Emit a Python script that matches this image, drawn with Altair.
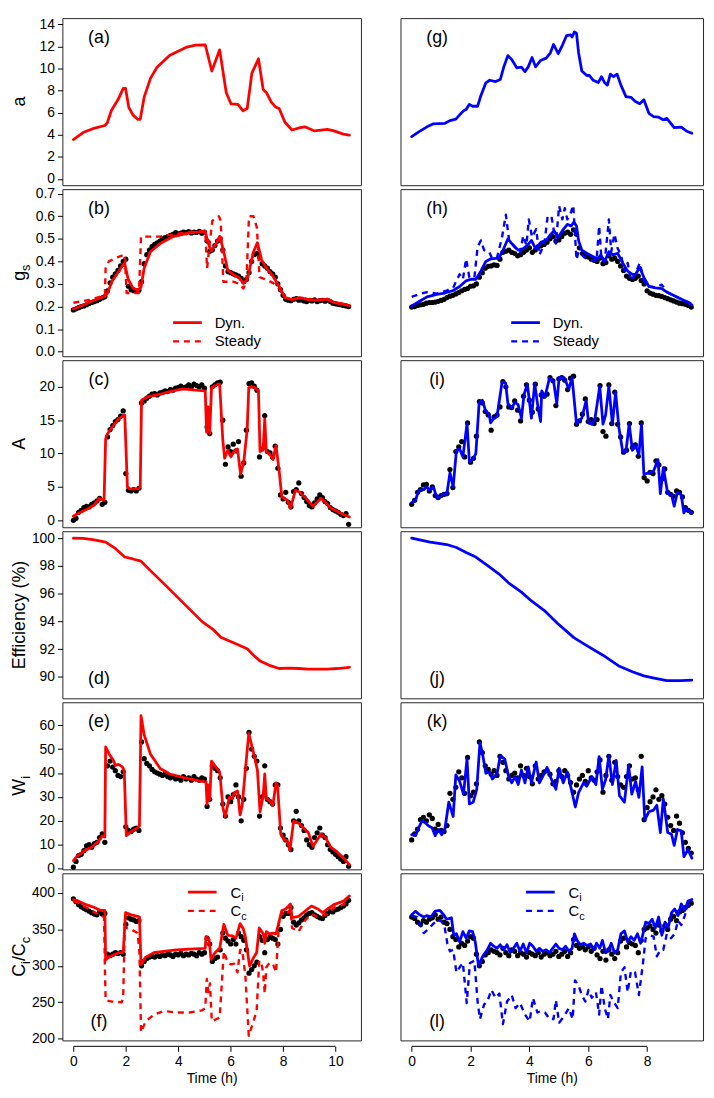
import altair as alt
import pandas as pd

FONT = "Liberation Sans"
RED = "#ff0000"
BLUE = "#0000ff"
H = 169
WL, WR = 302, 306
XL = [-0.42, 10.97]
XR = [-0.38, 9.9]
XTL = [0, 2, 4, 6, 8, 10]
XTR = [0, 2, 4, 6, 8]

# observation time grids (h)
TL = [0.0, 0.1, 0.2, 0.3, 0.4, 0.5, 0.6, 0.7, 0.8, 0.9,
      1.0, 1.1, 1.2, 1.3, 1.4, 1.5, 1.6, 1.7, 1.8, 1.9,
      2.0, 2.1, 2.2, 2.3, 2.4, 2.5, 2.6, 2.7, 2.8, 2.9,
      3.0, 3.1, 3.2, 3.3, 3.4, 3.5, 3.6, 3.7, 3.8, 3.9,
      4.0, 4.1, 4.2, 4.3, 4.4, 4.5, 4.6, 4.7, 4.8, 4.9,
      5.0, 5.1, 5.2, 5.3, 5.4, 5.5, 5.6, 5.7, 5.8, 5.9,
      6.0, 6.1, 6.2, 6.3, 6.4, 6.5, 6.6, 6.7, 6.8, 6.9,
      7.0, 7.1, 7.2, 7.3, 7.4, 7.5, 7.6, 7.7, 7.8, 7.9,
      8.0, 8.1, 8.2, 8.3, 8.4, 8.5, 8.6, 8.7, 8.8, 8.9,
      9.0, 9.1, 9.2, 9.3, 9.4, 9.5, 9.6, 9.7, 9.8, 9.9,
      10.0, 10.1, 10.2, 10.3, 10.4, 10.5]
TR = TL[:96]

# ---------------- left column (red) ----------------
A_LINE = [(0, 3.57), (0.37, 4.2), (0.74, 4.55), (1.2, 4.84), (1.29, 5.07), (1.45, 6.2), (1.72, 7.25),
          (1.9, 8.2), (1.99, 8.2), (2.11, 6.5), (2.27, 5.8), (2.45, 5.4), (2.55, 5.4), (2.7, 7.4),
          (2.94, 9.1), (3.19, 10.1), (3.68, 11.2), (4.29, 11.9), (4.66, 12.1), (5.03, 12.14),
          (5.28, 9.77), (5.58, 11.68), (5.83, 7.83), (6.01, 6.8), (6.28, 6.75), (6.47, 6.17),
          (6.63, 6.38), (6.81, 9.57), (7.06, 10.87), (7.24, 8.1), (7.36, 7.83), (7.55, 6.96),
          (7.71, 6.52), (7.85, 6.38), (8.07, 5.13), (8.34, 4.43), (8.65, 4.64), (8.83, 4.72),
          (9.2, 4.35), (9.69, 4.49), (9.94, 4.35), (10.3, 4.06), (10.53, 3.97)]

B_DOTS = [0.185, 0.19, 0.195, 0.2, 0.203, 0.208, 0.214, 0.218, 0.222, 0.226,
          0.232, 0.238, 0.243, 0.27, 0.305, 0.33, 0.345, 0.36, 0.38, 0.4,
          0.41, 0.29, 0.275, 0.27, 0.268, 0.272, 0.31, 0.39, 0.43, 0.45,
          0.465, 0.475, 0.482, 0.49, 0.5, 0.505, 0.51, 0.515, 0.52, 0.528,
          0.522, 0.525, 0.53, 0.527, 0.532, 0.526, 0.53, 0.528, 0.533, 0.525,
          0.53, 0.49, 0.445, 0.45, 0.47, 0.49, 0.5, 0.45, 0.38, 0.355,
          0.35, 0.345, 0.34, 0.335, 0.325, 0.31, 0.32, 0.35, 0.4, 0.43,
          0.435, 0.42, 0.39, 0.38, 0.37, 0.355, 0.345, 0.33, 0.3, 0.275,
          0.25, 0.232, 0.228, 0.226, 0.232, 0.235, 0.228, 0.23, 0.225, 0.222,
          0.228, 0.225, 0.23, 0.222, 0.226, 0.228, 0.224, 0.228, 0.222, 0.215,
          0.212, 0.21, 0.208, 0.205, 0.203, 0.2]
B_DYN = [(0, 0.189), (0.37, 0.207), (0.74, 0.226), (1.2, 0.246), (1.29, 0.257), (1.47, 0.311),
         (1.72, 0.354), (1.9, 0.386), (1.96, 0.389), (2.09, 0.321), (2.27, 0.283), (2.45, 0.271),
         (2.58, 0.286), (2.7, 0.371), (2.94, 0.443), (3.31, 0.479), (3.8, 0.51), (4.42, 0.526),
         (5.03, 0.533), (5.13, 0.486), (5.25, 0.446), (5.4, 0.471), (5.58, 0.511), (5.71, 0.457),
         (5.89, 0.36), (6.13, 0.34), (6.32, 0.329), (6.48, 0.303), (6.63, 0.317), (6.87, 0.443),
         (7.02, 0.483), (7.18, 0.407), (7.36, 0.371), (7.61, 0.336), (7.85, 0.289), (8.07, 0.24),
         (8.34, 0.231), (8.65, 0.24), (8.96, 0.231), (9.33, 0.229), (9.69, 0.233), (9.94, 0.217),
         (10.3, 0.211), (10.53, 0.204)]
B_STD = [(0, 0.217), (0.6, 0.229), (1.2, 0.25), (1.23, 0.37), (1.35, 0.40), (1.72, 0.42),
         (1.96, 0.43), (2.03, 0.26), (2.5, 0.26), (2.58, 0.51), (3.3, 0.51), (3.8, 0.52),
         (4.4, 0.53), (5.03, 0.535), (5.1, 0.37), (5.2, 0.48), (5.3, 0.58), (5.55, 0.6),
         (5.62, 0.58), (5.72, 0.31), (6.1, 0.31), (6.35, 0.30), (6.48, 0.28), (6.6, 0.31),
         (6.7, 0.6), (6.87, 0.6), (7.0, 0.55), (7.1, 0.33), (7.36, 0.32), (7.61, 0.305),
         (7.85, 0.28), (8.07, 0.24), (8.34, 0.232), (8.65, 0.24), (9.0, 0.232), (9.33, 0.229),
         (9.7, 0.233), (10.0, 0.218), (10.53, 0.205)]

C_DOTS = [0.0, 0.3, 1.2, 1.5, 1.9, 2.1, 2.0, 2.4, 2.6, 2.9,
          3.3, 2.4, 2.7, 12.5, 13.6, 14.2, 14.8, 15.1, 15.6, 16.4,
          7.0, 4.5, 4.4, 4.6, 4.4, 4.8, 17.6, 17.9, 18.3, 18.6,
          18.9, 19.0, 18.8, 19.1, 19.2, 19.4, 19.3, 19.6, 19.5, 19.8,
          19.9, 20.1, 19.9, 20.0, 20.3, 20.0, 20.4, 20.2, 20.0, 20.3,
          19.8, 14.0, 13.0, 20.0, 20.3, 20.6, 20.7, 15.0, 8.4, 11.0,
          10.3, 11.4, 10.4, 11.8, 6.6, 8.6, 13.5, 20.5, 20.6, 20.1,
          19.5, 9.5, 10.7, 15.7, 10.3, 10.1, 9.5, 11.1, 7.8, 3.8,
          3.2, 4.2, 2.7, 2.0, 4.3, 4.6, 5.6, 4.0, 3.4, 2.8,
          2.2, 2.0, 2.6, 3.2, 3.8, 3.4, 2.8, 2.5, 1.9, 1.6,
          1.4, 1.2, 0.9, 0.7, 1.0, -0.6]
C_LINE = [(0, 0.6), (0.12, 0.9), (0.49, 1.6), (0.8, 2.3), (0.98, 3.3), (1.17, 3.0), (1.23, 12.2),
          (1.29, 12.9), (1.47, 13.9), (1.72, 15.2), (1.96, 15.8), (2.06, 5.0), (2.15, 4.7),
          (2.45, 4.7), (2.55, 5.0), (2.6, 18.0), (2.82, 18.5), (3.31, 18.9), (3.68, 19.3),
          (4.17, 19.7), (4.66, 19.5), (5.03, 19.4), (5.08, 13.2), (5.14, 17.0), (5.2, 13.0),
          (5.27, 19.9), (5.52, 20.4), (5.58, 20.4), (5.7, 12.0), (5.77, 9.3), (5.89, 10.5),
          (6.01, 9.5), (6.13, 10.3), (6.26, 10.7), (6.38, 6.9), (6.5, 8.8), (6.63, 13.6),
          (6.69, 19.9), (6.87, 20.0), (7.06, 19.4), (7.12, 10.3), (7.24, 10.7), (7.3, 15.2),
          (7.36, 10.3), (7.48, 10.0), (7.61, 9.1), (7.73, 11.2), (7.85, 7.4), (7.95, 3.5),
          (8.16, 3.0), (8.28, 1.8), (8.47, 4.5), (8.65, 4.2), (8.83, 3.5), (9.14, 2.1),
          (9.45, 3.3), (9.63, 2.6), (9.82, 1.8), (10.06, 1.35), (10.3, 0.87), (10.53, 0.5)]

D_LINE = [(0, 100.0), (0.37, 99.98), (0.74, 99.89), (1.23, 99.72), (1.6, 99.26), (1.96, 98.64),
          (2.27, 98.5), (2.58, 98.34), (2.94, 97.66), (3.44, 96.74), (3.93, 95.82), (4.42, 94.9),
          (4.91, 93.98), (5.34, 93.4), (5.64, 92.83), (6.13, 92.44), (6.63, 92.02), (6.87, 91.56),
          (7.12, 91.15), (7.48, 90.83), (7.85, 90.6), (8.22, 90.62), (8.59, 90.6), (8.96, 90.55),
          (9.33, 90.55), (9.69, 90.55), (10.06, 90.6), (10.53, 90.69)]

E_DOTS = [0.6, 3.0, 5.5, 6.0, 7.5, 9.5, 10.0, 9.0, 10.5, 11.0,
          13.0, 14.5, 11.0, 43.0, 45.0, 42.5, 41.0, 39.0, 38.5, 40.5,
          17.5, 16.0, 15.5, 16.5, 17.0, 16.0, 53.0, 46.0, 44.0, 43.0,
          41.5, 40.5, 40.0, 39.5, 39.0, 39.5, 38.5, 38.0, 38.5, 37.5,
          38.0, 37.0, 38.5, 37.5, 38.0, 37.0, 38.5, 37.5, 37.0, 38.0,
          37.5, 26.0, 29.0, 43.0, 42.0, 41.0, 38.0, 27.0, 22.0, 30.0,
          28.0, 31.0, 35.0, 30.0, 20.0, 29.0, 42.0, 57.0, 50.0, 47.0,
          45.0, 22.0, 30.0, 43.0, 29.0, 28.0, 27.0, 35.0, 35.0, 17.0,
          14.0, 12.0, 10.0, 8.0, 20.0, 24.0, 20.0, 18.0, 16.0, 12.0,
          10.0, 9.0, 13.0, 15.0, 17.0, 14.0, 13.0, 10.0, 8.0, 7.0,
          6.0, 5.0, 4.0, 3.0, 5.0, 1.0]
E_LINE = [(0, 3.3), (0.12, 5.0), (0.43, 7.5), (0.74, 9.3), (0.98, 11.8), (1.1, 13.7), (1.2, 13.2),
          (1.23, 50.9), (1.37, 47.9), (1.53, 45.2), (1.6, 43.2), (1.72, 43.6), (1.87, 42.6),
          (1.94, 41.0), (2.02, 13.8), (2.27, 16.0), (2.45, 17.1), (2.52, 17.8), (2.58, 64.0),
          (2.7, 56.0), (2.94, 47.9), (3.31, 41.9), (3.68, 39.6), (4.29, 37.9), (4.91, 36.5),
          (5.06, 36.3), (5.1, 27.0), (5.15, 35.0), (5.2, 29.0), (5.27, 45.0), (5.52, 41.2),
          (5.58, 40.5), (5.71, 25.1), (5.79, 21.8), (5.95, 29.8), (6.07, 29.2), (6.13, 31.8),
          (6.26, 32.5), (6.36, 22.5), (6.44, 26.5), (6.56, 41.2), (6.69, 56.6), (6.87, 48.6),
          (7.02, 41.2), (7.12, 23.8), (7.24, 30.5), (7.3, 39.6), (7.36, 29.2), (7.48, 28.5),
          (7.61, 26.5), (7.73, 35.9), (7.79, 34.5), (7.91, 14.4), (8.04, 12.0), (8.16, 11.7),
          (8.26, 7.7), (8.4, 19.8), (8.59, 19.1), (8.71, 17.8), (8.96, 15.1), (9.14, 9.3),
          (9.45, 14.6), (9.63, 12.8), (9.82, 9.0), (10.06, 7.0), (10.31, 4.4), (10.53, 1.7)]

F_DOTS = [392, 388, 384, 381, 379, 377, 375, 373, 371, 370,
          374, 371, 372, 316, 314, 316, 318, 317, 318, 316,
          357, 366, 364, 363, 361, 362, 300, 306, 310, 312,
          313, 312, 314, 313, 315, 314, 316, 315, 313, 316,
          315, 317, 314, 316, 315, 317, 316, 314, 318, 316,
          318, 338, 330, 306, 310, 312, 322, 345, 338, 334,
          330, 336, 330, 345, 340, 335, 322, 290, 295, 300,
          305, 340, 335, 318, 336, 340, 338, 336, 330, 350,
          368, 372, 372, 380, 360, 356, 359, 363, 366, 370,
          372, 373, 370, 368, 366, 365, 369, 372, 375, 374,
          377, 378, 380, 382, 385, 390]
F_CI = [(0, 391), (0.18, 389), (0.49, 384), (0.8, 380), (1.04, 376), (1.2, 376), (1.23, 308),
        (1.35, 312), (1.72, 318), (1.9, 318), (1.99, 373), (2.21, 370), (2.45, 368), (2.52, 367),
        (2.58, 302), (2.76, 312), (3.07, 318), (3.44, 320), (3.93, 322), (4.42, 323), (5.03, 324),
        (5.06, 340), (5.13, 338), (5.18, 336), (5.25, 309), (5.4, 318), (5.58, 324), (5.74, 357),
        (5.89, 342), (6.07, 341), (6.2, 338), (6.36, 358), (6.48, 351), (6.56, 340), (6.72, 300),
        (6.87, 311), (6.99, 318), (7.09, 352), (7.24, 344), (7.3, 331), (7.36, 347), (7.48, 344),
        (7.61, 345), (7.73, 344), (7.95, 376), (8.1, 378), (8.28, 385), (8.34, 366), (8.59, 368),
        (8.83, 375), (9.08, 382), (9.33, 378), (9.51, 373), (9.69, 378), (9.94, 384),
        (10.31, 389), (10.53, 396)]
F_CC = [(0, 389), (0.49, 380), (1.04, 369), (1.17, 367), (1.2, 300), (1.23, 253), (1.47, 251),
        (1.84, 250), (1.9, 256), (1.96, 353), (2.21, 350), (2.45, 345), (2.52, 318), (2.58, 209),
        (2.76, 224), (3.07, 233), (3.44, 238), (3.93, 236), (4.42, 236), (4.91, 239), (5.03, 242),
        (5.09, 282), (5.15, 264), (5.21, 276), (5.28, 224), (5.46, 227), (5.58, 229), (5.74, 320),
        (5.89, 304), (6.01, 302), (6.13, 303), (6.26, 291), (6.36, 322), (6.44, 322), (6.56, 287),
        (6.69, 204), (6.87, 224), (6.99, 238), (7.09, 307), (7.18, 304), (7.24, 289), (7.3, 262),
        (7.36, 298), (7.48, 304), (7.61, 303), (7.73, 291), (7.85, 362), (7.95, 373), (8.1, 369),
        (8.28, 378), (8.34, 352), (8.59, 347), (8.83, 362), (9.08, 371), (9.33, 367), (9.69, 371),
        (9.94, 380), (10.31, 384), (10.53, 391)]

# ---------------- right column (blue) ----------------
G_LINE = [(0, 3.83), (0.24, 4.26), (0.52, 4.72), (0.74, 4.99), (1.13, 5.04), (1.3, 5.28), (1.5, 5.42),
          (1.63, 5.8), (1.76, 6.17), (1.85, 6.29), (1.96, 6.75), (2.07, 6.58), (2.24, 6.58),
          (2.35, 7.54), (2.52, 8.7), (2.65, 8.93), (2.85, 8.81), (3.01, 8.99), (3.13, 10.14),
          (3.27, 11.16), (3.4, 10.8), (3.57, 10.06), (3.73, 10.12), (3.85, 9.71), (3.96, 10.14),
          (4.09, 10.99), (4.21, 10.14), (4.38, 10.72), (4.57, 10.93), (4.71, 11.39), (4.82, 12.17),
          (4.98, 11.33), (5.12, 12.09), (5.26, 12.96), (5.4, 13.04), (5.45, 12.84), (5.53, 13.3),
          (5.6, 13.19), (5.67, 11.45), (5.78, 9.77), (5.95, 9.36), (6.04, 9.36), (6.17, 8.93),
          (6.34, 8.72), (6.45, 9.25), (6.56, 8.7), (6.65, 8.49), (6.75, 9.48), (6.86, 9.25),
          (6.98, 9.48), (7.11, 8.49), (7.28, 7.45), (7.45, 7.39), (7.59, 7.04), (7.75, 6.81),
          (7.89, 7.16), (8.06, 5.94), (8.22, 5.65), (8.39, 5.59), (8.55, 5.36), (8.67, 5.48),
          (8.92, 4.64), (9.16, 4.7), (9.33, 4.35), (9.52, 4.14)]

H_DOTS = [0.198, 0.2, 0.205, 0.208, 0.21, 0.215, 0.218, 0.218, 0.22, 0.223,
          0.227, 0.232, 0.24, 0.246, 0.25, 0.256, 0.262, 0.27, 0.276, 0.28,
          0.29, 0.292, 0.3, 0.33, 0.35, 0.37, 0.378, 0.38, 0.385, 0.382,
          0.41, 0.44, 0.445, 0.45, 0.44, 0.435, 0.425, 0.43, 0.44, 0.45,
          0.46, 0.44, 0.45, 0.465, 0.47, 0.475, 0.485, 0.5, 0.51, 0.49,
          0.495, 0.51, 0.525, 0.53, 0.52, 0.54, 0.52, 0.46, 0.435, 0.425,
          0.42, 0.41, 0.405, 0.4, 0.415, 0.39, 0.395, 0.425, 0.41, 0.415,
          0.4, 0.38, 0.36, 0.335, 0.325, 0.32, 0.325, 0.335, 0.315, 0.3,
          0.27, 0.26, 0.255, 0.25, 0.248, 0.245, 0.24, 0.235, 0.23, 0.225,
          0.22, 0.215, 0.213, 0.21, 0.205, 0.198]
H_DYN = [(0, 0.203), (0.24, 0.221), (0.52, 0.243), (0.85, 0.254), (1.13, 0.26), (1.41, 0.271),
         (1.63, 0.289), (1.85, 0.314), (2.02, 0.321), (2.18, 0.321), (2.35, 0.357), (2.52, 0.4),
         (2.68, 0.411), (2.96, 0.414), (3.13, 0.457), (3.27, 0.5), (3.4, 0.479), (3.62, 0.45),
         (3.79, 0.457), (3.93, 0.471), (4.07, 0.493), (4.21, 0.457), (4.4, 0.486), (4.57, 0.493),
         (4.73, 0.521), (4.84, 0.536), (4.98, 0.507), (5.12, 0.536), (5.29, 0.564), (5.42, 0.557),
         (5.51, 0.574), (5.6, 0.557), (5.67, 0.493), (5.78, 0.45), (5.95, 0.436), (6.17, 0.421),
         (6.34, 0.411), (6.42, 0.429), (6.56, 0.4), (6.7, 0.443), (6.84, 0.429), (7.0, 0.436),
         (7.17, 0.393), (7.34, 0.357), (7.5, 0.343), (7.61, 0.343), (7.75, 0.374), (7.89, 0.329),
         (8.06, 0.289), (8.28, 0.283), (8.5, 0.279), (8.67, 0.264), (8.89, 0.25), (9.11, 0.236),
         (9.28, 0.226), (9.52, 0.207)]
H_STD = [(0, 0.243), (0.3, 0.257), (0.52, 0.264), (0.85, 0.257), (1.19, 0.271), (1.41, 0.283),
         (1.52, 0.314), (1.63, 0.343), (1.74, 0.321), (1.85, 0.411), (1.96, 0.329), (2.13, 0.329),
         (2.24, 0.464), (2.35, 0.493), (2.46, 0.45), (2.63, 0.443), (2.74, 0.411), (2.9, 0.417),
         (3.07, 0.507), (3.2, 0.607), (3.31, 0.493), (3.45, 0.471), (3.68, 0.436), (3.79, 0.514),
         (3.9, 0.471), (3.98, 0.586), (4.09, 0.507), (4.23, 0.543), (4.34, 0.429), (4.51, 0.479),
         (4.62, 0.6), (4.75, 0.6), (4.9, 0.479), (5.01, 0.646), (5.12, 0.586), (5.2, 0.636),
         (5.29, 0.586), (5.4, 0.614), (5.49, 0.649), (5.6, 0.407), (5.67, 0.443), (5.84, 0.421),
         (6.01, 0.407), (6.17, 0.407), (6.28, 0.4), (6.37, 0.557), (6.45, 0.407), (6.56, 0.4),
         (6.7, 0.586), (6.78, 0.443), (6.89, 0.521), (7.0, 0.457), (7.11, 0.429), (7.23, 0.357),
         (7.34, 0.393), (7.45, 0.314), (7.59, 0.343), (7.75, 0.393), (7.89, 0.314), (8.06, 0.289),
         (8.28, 0.286), (8.5, 0.297), (8.67, 0.264), (8.89, 0.25), (9.11, 0.236), (9.28, 0.229),
         (9.52, 0.211)]

I_DOTS = [2.4, 3.0, 4.2, 4.6, 5.3, 5.4, 4.4, 5.0, 3.7, 3.4,
          3.7, 3.9, 4.0, 7.6, 4.9, 10.3, 11.0, 11.8, 9.5, 14.6,
          8.7, 9.3, 12.6, 17.8, 17.6, 16.3, 15.8, 13.5, 15.5, 15.8,
          17.0, 20.8, 20.0, 17.0, 16.9, 17.9, 16.5, 14.9, 18.6, 20.3,
          18.0, 16.2, 20.4, 16.7, 18.8, 18.6, 18.9, 21.4, 20.9, 17.2,
          21.2, 21.4, 21.0, 19.6, 21.3, 21.6, 14.4, 14.9, 15.9, 18.2,
          14.8, 15.1, 14.5, 15.1, 20.2, 13.3, 12.6, 20.3, 14.5, 19.2,
          14.4, 12.5, 10.2, 10.5, 14.5, 10.9, 11.3, 9.6, 14.6, 6.4,
          5.9, 7.2, 7.0, 8.9, 8.3, 6.2, 7.7, 4.2, 3.9, 3.6,
          4.4, 4.2, 3.5, 1.9, 1.5, 1.2]
I_LINE = [(0, 2.65), (0.13, 3.0), (0.24, 4.5), (0.41, 4.6), (0.52, 5.0), (0.63, 4.5), (0.74, 5.0),
          (0.85, 3.4), (0.96, 3.5), (1.07, 4.0), (1.19, 3.8), (1.3, 7.1), (1.41, 5.0), (1.52, 10.5),
          (1.63, 10.7), (1.74, 9.5), (1.88, 14.5), (1.96, 8.8), (2.07, 9.1), (2.18, 10.0),
          (2.29, 17.5), (2.4, 18.0), (2.52, 16.3), (2.63, 16.0), (2.68, 14.6), (2.79, 15.3),
          (2.9, 15.6), (3.07, 20.7), (3.19, 20.6), (3.27, 17.5), (3.4, 16.8), (3.51, 17.7),
          (3.62, 17.3), (3.73, 15.3), (3.82, 18.9), (3.93, 20.4), (4.07, 15.3), (4.18, 20.5),
          (4.29, 17.0), (4.38, 14.8), (4.42, 19.4), (4.53, 18.5), (4.68, 21.3), (4.82, 20.9),
          (4.93, 17.5), (5.01, 21.4), (5.18, 21.4), (5.34, 19.7), (5.45, 21.4), (5.6, 14.5),
          (5.78, 15.3), (5.93, 18.0), (6.01, 14.6), (6.12, 14.4), (6.23, 15.3), (6.39, 20.1),
          (6.5, 14.4), (6.59, 15.8), (6.7, 20.1), (6.82, 14.4), (6.93, 19.2), (7.04, 13.9),
          (7.17, 10.3), (7.28, 10.3), (7.39, 14.4), (7.5, 10.5), (7.61, 11.2), (7.72, 9.8),
          (7.81, 14.4), (7.89, 6.9), (8.06, 7.1), (8.22, 7.4), (8.37, 9.1), (8.45, 4.0),
          (8.55, 7.9), (8.7, 4.0), (8.83, 3.8), (8.92, 2.1), (9.03, 4.2), (9.16, 3.8),
          (9.25, 1.1), (9.33, 1.8), (9.44, 1.35), (9.52, 1.1)]

J_LINE = [(0, 100.0), (0.63, 99.72), (1.19, 99.54), (1.52, 99.33), (1.85, 98.97), (2.18, 98.64),
          (2.63, 97.95), (2.96, 97.43), (3.29, 96.78), (3.73, 96.11), (4.07, 95.47), (4.51, 94.78),
          (4.95, 93.86), (5.51, 92.83), (5.95, 92.25), (6.5, 91.56), (7.06, 90.76), (7.5, 90.37),
          (7.89, 90.07), (8.28, 89.89), (8.67, 89.72), (9.16, 89.72), (9.52, 89.77)]

K_DOTS = [12.0, 14.5, 16.5, 20.5, 21.5, 20.0, 22.5, 21.0, 16.5, 18.5,
          16.0, 15.5, 18.0, 31.5, 29.0, 34.0, 40.5, 38.0, 31.5, 46.5,
          30.5, 32.0, 35.5, 53.0, 48.5, 43.0, 41.5, 39.5, 41.0, 39.0,
          47.0, 44.5, 41.0, 37.5, 39.0, 40.0, 38.0, 43.0, 39.0, 42.0,
          38.5, 35.5, 43.0, 37.5, 39.0, 40.5, 41.0, 39.5, 35.5, 36.5,
          41.0, 38.5, 41.0, 39.0, 36.0, 32.0, 35.0, 37.5, 39.0, 36.5,
          41.0, 38.0, 37.0, 40.5, 45.5, 32.0, 39.0, 47.0, 37.0, 44.5,
          38.5, 35.0, 34.0, 38.5, 43.0, 37.5, 38.0, 33.0, 47.0, 20.5,
          25.5, 28.0, 30.0, 33.0, 29.0, 30.5, 27.0, 21.5, 18.0, 16.0,
          22.0, 19.0, 15.0, 11.0, 8.5, 6.5]
K_LINE = [(0, 14.2), (0.13, 13.8), (0.24, 17.1), (0.35, 20.1), (0.47, 19.1), (0.58, 17.8),
          (0.69, 17.1), (0.8, 13.8), (0.91, 16.4), (1.02, 14.2), (1.13, 16.7), (1.26, 27.8),
          (1.41, 21.8), (1.5, 39.2), (1.63, 36.5), (1.76, 31.2), (1.88, 45.9), (1.96, 27.1),
          (2.09, 27.8), (2.21, 33.2), (2.32, 52.6), (2.4, 48.6), (2.52, 39.9), (2.65, 40.5),
          (2.74, 37.5), (2.9, 39.6), (3.01, 47.2), (3.16, 45.9), (3.29, 38.8), (3.4, 35.9),
          (3.51, 38.5), (3.62, 35.2), (3.73, 41.2), (3.85, 35.9), (3.96, 42.6), (4.07, 35.9),
          (4.23, 44.6), (4.34, 35.9), (4.45, 38.5), (4.6, 42.3), (4.73, 37.9), (4.9, 33.2),
          (5.01, 41.9), (5.15, 35.9), (5.29, 40.5), (5.4, 34.5), (5.56, 25.8), (5.67, 31.8),
          (5.84, 35.9), (5.95, 34.5), (6.12, 38.5), (6.26, 35.2), (6.37, 46.9), (6.48, 33.2),
          (6.59, 37.2), (6.7, 47.3), (6.82, 35.2), (6.95, 45.3), (7.06, 30.5), (7.23, 27.8),
          (7.37, 43.2), (7.48, 31.2), (7.61, 36.5), (7.72, 29.8), (7.83, 42.6), (7.92, 20.4),
          (8.06, 23.8), (8.22, 24.5), (8.33, 26.5), (8.45, 15.1), (8.55, 29.2), (8.7, 15.1),
          (8.83, 14.4), (8.92, 9.7), (9.03, 16.4), (9.16, 15.8), (9.25, 5.0), (9.39, 8.0),
          (9.52, 4.4)]

L_DOTS = [367, 365, 360, 357, 362, 360, 364, 366, 370, 364,
          367, 360, 358, 350, 340, 336, 326, 331, 328, 334,
          340, 338, 316, 300, 306, 315, 318, 322, 320, 318,
          315, 324, 318, 314, 322, 320, 314, 318, 316, 312,
          318, 316, 314, 318, 312, 316, 318, 314, 316, 320,
          313, 316, 320, 313, 318, 336, 328, 324, 326, 322,
          326, 320, 324, 315, 310, 320, 308, 322, 316, 310,
          318, 334, 338, 326, 332, 330, 328, 318, 335, 350,
          352, 355, 350, 345, 356, 348, 355, 350, 364, 368,
          362, 374, 376, 380, 383, 386]
L_CI = [(0, 370), (0.13, 375), (0.24, 371), (0.41, 367), (0.52, 369), (0.65, 367), (0.8, 375),
        (0.96, 376), (1.07, 371), (1.19, 364), (1.35, 366), (1.43, 342), (1.52, 344), (1.63, 333),
        (1.74, 347), (1.85, 338), (1.96, 348), (2.07, 347), (2.16, 333), (2.27, 300), (2.4, 312),
        (2.57, 322), (2.68, 331), (2.79, 327), (2.9, 324), (3.01, 329), (3.13, 322), (3.24, 329),
        (3.35, 318), (3.46, 324), (3.57, 331), (3.68, 320), (3.79, 330), (3.9, 318), (4.01, 331),
        (4.12, 327), (4.23, 320), (4.34, 324), (4.45, 320), (4.57, 322), (4.68, 318), (4.79, 324),
        (4.9, 330), (5.01, 324), (5.12, 322), (5.23, 327), (5.34, 320), (5.45, 324), (5.53, 344),
        (5.62, 335), (5.73, 329), (5.84, 331), (5.95, 328), (6.08, 330), (6.19, 322), (6.28, 331),
        (6.39, 324), (6.48, 335), (6.59, 318), (6.67, 320), (6.78, 331), (6.89, 318), (7.0, 322),
        (7.11, 344), (7.23, 348), (7.34, 333), (7.45, 340), (7.56, 335), (7.67, 344), (7.78, 331),
        (7.86, 344), (7.95, 360), (8.06, 358), (8.17, 364), (8.28, 352), (8.39, 367), (8.5, 342),
        (8.61, 360), (8.72, 353), (8.83, 373), (8.94, 378), (9.05, 369), (9.16, 385), (9.28, 376),
        (9.39, 389), (9.52, 391)]
L_CC = [(0, 369), (0.19, 367), (0.41, 345), (0.58, 351), (0.74, 358), (0.91, 364), (1.1, 358),
        (1.21, 331), (1.3, 320), (1.41, 322), (1.52, 291), (1.63, 298), (1.74, 304), (1.87, 249),
        (1.98, 304), (2.13, 307), (2.24, 251), (2.32, 227), (2.46, 247), (2.57, 251), (2.71, 267),
        (2.85, 256), (2.98, 262), (3.1, 220), (3.24, 251), (3.4, 260), (3.53, 242), (3.68, 249),
        (3.85, 233), (4.01, 224), (4.12, 256), (4.27, 236), (4.4, 238), (4.53, 236), (4.68, 227),
        (4.82, 227), (4.9, 253), (5.01, 222), (5.18, 231), (5.34, 242), (5.47, 227), (5.55, 280),
        (5.67, 273), (5.78, 260), (5.9, 251), (6.01, 267), (6.12, 256), (6.26, 264), (6.37, 233),
        (6.45, 273), (6.56, 242), (6.67, 227), (6.75, 260), (6.86, 251), (7.0, 242), (7.11, 291),
        (7.23, 298), (7.34, 264), (7.45, 293), (7.59, 291), (7.72, 260), (7.86, 304), (7.95, 338),
        (8.09, 342), (8.22, 340), (8.33, 313), (8.45, 322), (8.55, 322), (8.67, 344), (8.81, 338),
        (8.94, 344), (9.05, 362), (9.16, 356), (9.28, 369), (9.39, 384), (9.52, 387)]

# y-axis settings per row
YDOM = {"a": [-0.56, 14.55], "b": [-0.02, 0.72], "c": [-1.05, 24.0],
        "d": [88.45, 100.5], "e": [-0.3, 69.6], "f": [197.7, 427.0]}
YTICKS = {"a": [0, 2, 4, 6, 8, 10, 12, 14], "b": [0, 0.1, 0.2, 0.3, 0.4, 0.5, 0.6, 0.7],
          "c": [0, 5, 10, 15, 20], "d": [90, 92, 94, 96, 98, 100],
          "e": [0, 10, 20, 30, 40, 50, 60], "f": [200, 250, 300, 350, 400]}
YFMT = {"a": "d", "b": ".1f", "c": "d", "d": "d", "e": "d", "f": "d"}
YTITLE = {"a": [("a", False)], "b": [("g", False), ("s", True)], "c": [("A", False)],
          "d": [("Efficiency (%)", False)], "e": [("W", False), ("i", True)],
          "f": [("C", False), ("i", True), ("/C", False), ("c", True)]}

ADV = {"a": .556, "g": .556, "s": .5, "A": .667, "W": .944, "i": .222, "C": .722, "c": .5,
       "/": .278, "E": .667, "f": .278, "n": .556, "y": .5, " ": .278, "(": .333, "%": .889,
       ")": .333, "e": .556}

TITLE_SIZE = 18
SUB_SIZE = 13
TICK_SIZE = 14
TAG_SIZE = 18
LEG_SIZE = 15

ONE = pd.DataFrame({"k": [0]})


def twidth(s, size):
    return sum(ADV.get(ch, 0.55) for ch in s) * size


def txt(s, x, y, size, align="center", baseline="middle", angle=0):
    return alt.Chart(ONE).mark_text(text=s, fontSize=size, font=FONT, color="black",
                                    align=align, baseline=baseline, angle=angle).encode(
        x=alt.value(x), y=alt.value(y))


def seg(x1, x2, y, color, dashed):
    kw = dict(color=color, strokeWidth=2.8)
    if dashed:
        kw["strokeDash"] = [6, 5]
        kw["strokeWidth"] = 2.4
    return alt.Chart(ONE).mark_rule(**kw).encode(x=alt.value(x1), x2=alt.value(x2), y=alt.value(y))


def panel(row, col, tag, dots=None, lines=(), tag_bottom=False, legend=None, xaxis=False):
    W = WL if col == 0 else WR
    xdom = XL if col == 0 else XR
    grid = TL if col == 0 else TR
    xt = XTL if col == 0 else XTR
    color = RED if col == 0 else BLUE
    if xaxis:
        xax = alt.Axis(values=xt, format="d", title="Time (h)", offset=6, domain=False, grid=False,
                       tickSize=5, tickColor="black", labelFontSize=TICK_SIZE, labelColor="black",
                       labelFont=FONT, labelPadding=3, labelFlush=False, titleFont=FONT,
                       titleFontSize=TICK_SIZE, titleFontWeight="normal", titleColor="black",
                       titlePadding=4)
    else:
        xax = None
    if col == 0:
        yax = alt.Axis(values=YTICKS[row], format=YFMT[row], title=None, domain=False, grid=False,
                       tickSize=5, tickColor="black", labelFontSize=TICK_SIZE, labelColor="black",
                       labelFont=FONT, labelPadding=3, labelOverlap=False, labelFlush=False,
                       labelBound=False)
    else:
        yax = None
    X = alt.X("t:Q", scale=alt.Scale(domain=xdom, nice=False, zero=False), axis=xax)
    Y = alt.Y("v:Q", scale=alt.Scale(domain=YDOM[row], nice=False, zero=False), axis=yax)
    layers = []
    if dots is not None:
        df = pd.DataFrame({"t": [t for t, _ in zip(grid, dots)], "v": [v for _, v in zip(grid, dots)]})
        layers.append(alt.Chart(df).mark_circle(size=28, color="black", opacity=1).encode(x=X, y=Y))
    for pts, dashed in lines:
        df = pd.DataFrame(pts, columns=["t", "v"])
        kw = dict(color=color, strokeWidth=2.8, strokeJoin="round")
        if dashed:
            kw["strokeDash"] = [6, 5]
            kw["strokeWidth"] = 2.4
        else:
            kw["strokeCap"] = "round"
        layers.append(alt.Chart(df).mark_line(**kw).encode(x=X, y=Y))
    if xaxis:
        adf = pd.DataFrame({"t": [xt[0]], "t2": [xt[-1]]})
        layers.append(alt.Chart(adf).mark_rule(color="black", strokeWidth=1).encode(
            x=X, x2="t2:Q", y=alt.value(H + 6)))
    # panel tag
    layers.append(txt(tag, 37, (H - 19) if tag_bottom else 20, TAG_SIZE))
    # y title built from pieces (subscripts)
    if col == 0:
        pieces = YTITLE[row]
        total = sum(twidth(p, SUB_SIZE if s else TITLE_SIZE) for p, s in pieces)
        y = H / 2 + total / 2
        for p, s in pieces:
            size = SUB_SIZE if s else TITLE_SIZE
            layers.append(txt(p, -38 + (5 if s else 0), y, size, align="left",
                              baseline="alphabetic", angle=270))
            y -= twidth(p, size)
    # legends
    if legend == "dyn":
        y1, y2 = round(0.8 * H), round(0.912 * H)
        layers += [seg(112, 141, y1, color, False), seg(112, 141, y2, color, True),
                   txt("Dyn.", 154, y1, LEG_SIZE, align="left"),
                   txt("Steady", 154, y2, LEG_SIZE, align="left")]
    if legend == "c":
        y1, y2 = 19, 38
        cx = 170
        layers += [seg(127, 156, y1, color, False), seg(127, 156, y2, color, True),
                   txt("C", cx, y1 + 5.5, LEG_SIZE, align="left", baseline="alphabetic"),
                   txt("i", cx + 10.9, y1 + 9, 11, align="left", baseline="alphabetic"),
                   txt("C", cx, y2 + 5.5, LEG_SIZE, align="left", baseline="alphabetic"),
                   txt("c", cx + 10.9, y2 + 9, 11, align="left", baseline="alphabetic")]
    return alt.layer(*layers).properties(width=W, height=H)


panels = [
    panel("a", 0, "(a)", lines=[(A_LINE, False)]),
    panel("a", 1, "(g)", lines=[(G_LINE, False)]),
    panel("b", 0, "(b)", dots=B_DOTS, lines=[(B_STD, True), (B_DYN, False)], legend="dyn"),
    panel("b", 1, "(h)", dots=H_DOTS, lines=[(H_STD, True), (H_DYN, False)], legend="dyn"),
    panel("c", 0, "(c)", dots=C_DOTS, lines=[(C_LINE, False)]),
    panel("c", 1, "(i)", dots=I_DOTS, lines=[(I_LINE, False)]),
    panel("d", 0, "(d)", lines=[(D_LINE, False)], tag_bottom=True),
    panel("d", 1, "(j)", lines=[(J_LINE, False)], tag_bottom=True),
    panel("e", 0, "(e)", dots=E_DOTS, lines=[(E_LINE, False)]),
    panel("e", 1, "(k)", dots=K_DOTS, lines=[(K_LINE, False)]),
    panel("f", 0, "(f)", dots=F_DOTS, lines=[(F_CC, True), (F_CI, False)], tag_bottom=True,
          legend="c", xaxis=True),
    panel("f", 1, "(l)", dots=L_DOTS, lines=[(L_CC, True), (L_CI, False)], tag_bottom=True,
          legend="c", xaxis=True),
]

chart = alt.concat(*panels, columns=2, spacing={"row": 4, "column": 40}, bounds="flush",
                   padding=2, background="white").configure_view(
    stroke="#262626", strokeWidth=1)

chart.save("out.html", embed_options={"renderer": "svg", "actions": False})
